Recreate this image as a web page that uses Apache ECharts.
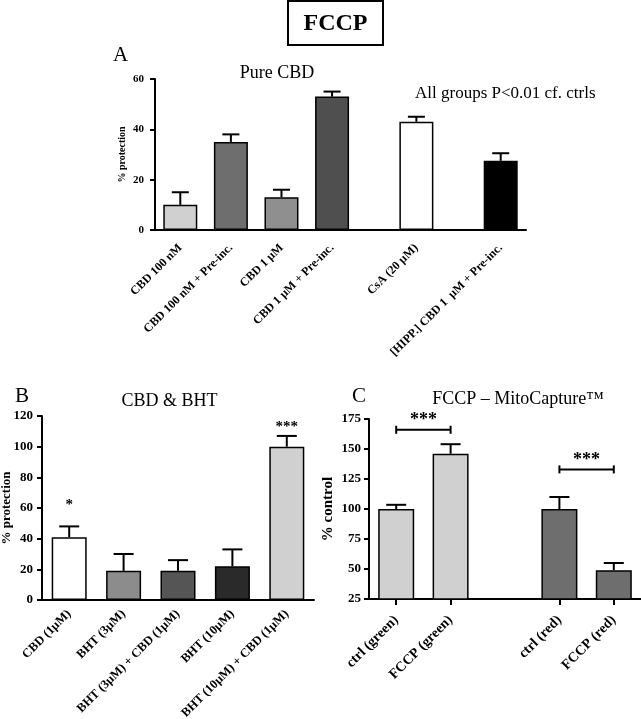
<!DOCTYPE html>
<html>
<head>
<meta charset="utf-8">
<script src="https://cdn.jsdelivr.net/npm/echarts@6/dist/echarts.min.js"></script>
<style>html,body{margin:0;padding:0;background:#fff;}#c{width:641px;height:719px;}</style>
</head>
<body>
<div id="c"></div>
<script>
// ---------- Panel A : Pure CBD ----------
const catA = ['CBD 100 nM', 'CBD 100 nM + Pre-inc.', 'CBD 1 µM', 'CBD 1 µM + Pre-inc.', 'CsA (20 µM)', '[HIPP.] CBD 1  µM + Pre-inc.'];
const valA = [10, 35, 13, 53, 43, 27.5];
const errA = [5, 3, 3, 2, 2, 3];
const ticksA = [0, 20, 40, 60];

// ---------- Panel B : CBD & BHT ----------
const catB = ['CBD (1µM)', 'BHT (3µM)', 'BHT (3µM) + CBD (1µM)', 'BHT (10µM)', 'BHT (10µM) + CBD (1µM)'];
const valB = [41, 19, 19, 22, 100];
const errB = [7, 11, 7, 11, 7];
const sigB = ['*', '', '', '', '***'];
const sigLevelB = [62, null, null, null, 113];
const ticksB = [0, 20, 40, 60, 80, 100, 120];

// ---------- Panel C : FCCP – MitoCapture ----------
const catC = ['ctrl (green)', 'FCCP (green)', '', 'ctrl (red)', 'FCCP (red)'];
const valC = [100, 146, null, 100, 49];
const errC = [3.5, 8, null, 10, 6];
const bracketC = [[0, 1, 166, '***'], [3, 4, 133, '***']];
const ticksC = [25, 50, 75, 100, 125, 150, 175];

// ---------- styles / layout (not data) ----------
const colA = ['#d0d0d0', '#6e6e6e', '#8f8f8f', '#4f4f4f', '#ffffff', '#000000'];
const colB = ['#ffffff', '#8c8c8c', '#555555', '#2a2a2a', '#d0d0d0'];
const colC = ['#d0d0d0', '#d0d0d0', '#ffffff', '#6e6e6e', '#6e6e6e'];
const slotA = [1, 4, 7, 10, 15, 20];
const nSlotA = 22;
const SERIF = "'Liberation Serif', 'Times New Roman', serif";

// Build padded category axis for A
const axisA = new Array(nSlotA).fill('');
const barA = new Array(nSlotA).fill('-');
const errDataA = [];
catA.forEach((c, i) => {
  axisA[slotA[i]] = c;
  barA[slotA[i]] = { value: valA[i], itemStyle: { color: colA[i] } };
  errDataA.push([slotA[i], valA[i], errA[i]]);
});
const barB = valB.map((v, i) => ({ value: v, itemStyle: { color: colB[i] } }));
const errDataB = valB.map((v, i) => [i, v, errB[i]]);
const sigDataB = [];
sigB.forEach((s, i) => { if (s) sigDataB.push([i, sigLevelB[i], s]); });
const barC = valC.map((v, i) => v == null ? '-' : ({ value: v, itemStyle: { color: colC[i] } }));
const errDataC = [];
valC.forEach((v, i) => { if (v != null) errDataC.push([i, v, errC[i]]); });

function errRender(hw) {
  return function (params, api) {
    const x = api.value(0), v = api.value(1), e = api.value(2);
    const p0 = api.coord([x, v]);
    const p1 = api.coord([x, v + e]);
    return {
      type: 'group',
      children: [
        { type: 'line', shape: { x1: p0[0], y1: p0[1], x2: p1[0], y2: p1[1] }, style: { stroke: '#000', lineWidth: 2 } },
        { type: 'line', shape: { x1: p1[0] - hw, y1: p1[1], x2: p1[0] + hw, y2: p1[1] }, style: { stroke: '#000', lineWidth: 2 } }
      ]
    };
  };
}

function yAxisCfg(grid, min, max, interval, name, fs, nfs, gap, margin) {
  return {
    type: 'value', gridIndex: grid, min: min, max: max, interval: interval,
    name: name, nameLocation: 'middle', nameGap: gap, nameRotate: 90, nameMoveOverlap: false,
    nameTextStyle: { fontFamily: SERIF, fontWeight: 'bold', fontSize: nfs, color: '#000' },
    axisLine: { show: true, lineStyle: { color: '#000', width: 2 } },
    axisTick: { show: true, inside: false, length: 5, lineStyle: { color: '#000', width: 2 } },
    axisLabel: { fontFamily: SERIF, fontWeight: 'bold', fontSize: fs, color: '#000', margin: margin },
    splitLine: { show: false }
  };
}

function xAxisCfg(grid, data, fs, margin, tickFn) {
  return {
    type: 'category', gridIndex: grid, data: data, boundaryGap: true,
    axisLine: { show: true, onZero: false, lineStyle: { color: '#000', width: 2 } },
    axisTick: tickFn ? { show: true, alignWithLabel: true, interval: tickFn, length: 6, lineStyle: { color: '#000', width: 2 } } : { show: false },
    axisLabel: { interval: 0, rotate: 45, fontFamily: SERIF, fontWeight: 'bold', fontSize: fs, color: '#000', margin: margin }
  };
}

const chart = echarts.init(document.getElementById('c'), null, { renderer: 'canvas' });
chart.setOption({
  animation: false,
  backgroundColor: '#fff',
  grid: [
    { left: 155, top: 79, width: 371, height: 151, containLabel: false, outerBoundsMode: 'none' },
    { left: 42, top: 416, width: 272, height: 184, containLabel: false, outerBoundsMode: 'none' },
    { left: 369, top: 419, width: 272, height: 180, containLabel: false, outerBoundsMode: 'none' }
  ],
  xAxis: [
    xAxisCfg(0, axisA, 12, 16, null),
    xAxisCfg(1, catB, 12.5, 12, null),
    xAxisCfg(2, catC, 14, 19, (idx, val) => val !== '')
  ],
  yAxis: [
    yAxisCfg(0, ticksA[0], ticksA[ticksA.length - 1], 20, '% protection', 11, 10, 28, 11),
    yAxisCfg(1, ticksB[0], ticksB[ticksB.length - 1], 20, '% protection', 13, 13, 29, 9),
    yAxisCfg(2, ticksC[0], ticksC[ticksC.length - 1], 25, '% control', 13, 15, 33, 8)
  ],
  series: [
    { type: 'bar', xAxisIndex: 0, yAxisIndex: 0, data: barA, barWidth: 34, itemStyle: { borderColor: '#000', borderWidth: 1.5 } },
    { type: 'custom', xAxisIndex: 0, yAxisIndex: 0, data: errDataA, encode: { x: 0, y: 1 }, renderItem: errRender(8.5), z: 5 },
    { type: 'bar', xAxisIndex: 1, yAxisIndex: 1, data: barB, barWidth: 35, itemStyle: { borderColor: '#000', borderWidth: 1.5 } },
    { type: 'custom', xAxisIndex: 1, yAxisIndex: 1, data: errDataB, encode: { x: 0, y: 1 }, renderItem: errRender(10), z: 5 },
    {
      type: 'custom', xAxisIndex: 1, yAxisIndex: 1, data: sigDataB, encode: { x: 0, y: 1 }, z: 6,
      renderItem: function (params, api) {
        const p = api.coord([api.value(0), api.value(1)]);
        return { type: 'text', x: p[0], y: p[1], style: { text: sigDataB[params.dataIndex][2], fill: '#000', font: 'bold 15px ' + SERIF, textAlign: 'center', textVerticalAlign: 'middle' } };
      }
    },
    { type: 'bar', xAxisIndex: 2, yAxisIndex: 2, data: barC, barWidth: 36, itemStyle: { borderColor: '#000', borderWidth: 1.5 } },
    { type: 'custom', xAxisIndex: 2, yAxisIndex: 2, data: errDataC, encode: { x: 0, y: 1 }, renderItem: errRender(10), z: 5 },
    {
      type: 'custom', xAxisIndex: 2, yAxisIndex: 2, data: bracketC, encode: { x: [0, 1], y: 2 }, z: 6,
      renderItem: function (params, api) {
        const a = api.coord([api.value(0), api.value(2)]);
        const b = api.coord([api.value(1), api.value(2)]);
        const ls = { stroke: '#000', lineWidth: 2 };
        return {
          type: 'group', children: [
            { type: 'line', shape: { x1: a[0], y1: a[1], x2: b[0], y2: b[1] }, style: ls },
            { type: 'line', shape: { x1: a[0], y1: a[1] - 4, x2: a[0], y2: a[1] + 4 }, style: ls },
            { type: 'line', shape: { x1: b[0], y1: b[1] - 4, x2: b[0], y2: b[1] + 4 }, style: ls },
            { type: 'text', x: (a[0] + b[0]) / 2, y: a[1] - 9, style: { text: bracketC[params.dataIndex][3], fill: '#000', font: 'bold 18px ' + SERIF, textAlign: 'center', textVerticalAlign: 'middle' } }
          ]
        };
      }
    }
  ],
  graphic: [
    { type: 'rect', shape: { x: 288, y: 1, width: 95, height: 44 }, style: { fill: '#fff', stroke: '#000', lineWidth: 2 } },
    { type: 'text', x: 335.5, y: 24, style: { text: 'FCCP', font: 'bold 24px ' + SERIF, fill: '#000', textAlign: 'center', textVerticalAlign: 'middle' } },
    { type: 'text', x: 113, y: 55, style: { text: 'A', font: '21px ' + SERIF, fill: '#000', textAlign: 'left', textVerticalAlign: 'middle' } },
    { type: 'text', x: 277, y: 73, style: { text: 'Pure CBD', font: '18px ' + SERIF, fill: '#000', textAlign: 'center', textVerticalAlign: 'middle' } },
    { type: 'text', x: 415, y: 94, style: { text: 'All groups P<0.01 cf. ctrls', font: '17px ' + SERIF, fill: '#000', textAlign: 'left', textVerticalAlign: 'middle' } },
    { type: 'text', x: 15, y: 396, style: { text: 'B', font: '21px ' + SERIF, fill: '#000', textAlign: 'left', textVerticalAlign: 'middle' } },
    { type: 'text', x: 169.5, y: 401, style: { text: 'CBD & BHT', font: '18px ' + SERIF, fill: '#000', textAlign: 'center', textVerticalAlign: 'middle' } },
    { type: 'text', x: 352, y: 396, style: { text: 'C', font: '21px ' + SERIF, fill: '#000', textAlign: 'left', textVerticalAlign: 'middle' } },
    { type: 'text', x: 518, y: 399, style: { text: 'FCCP – MitoCapture™', font: '18px ' + SERIF, fill: '#000', textAlign: 'center', textVerticalAlign: 'middle' } }
  ]
});
</script>
</body>
</html>
